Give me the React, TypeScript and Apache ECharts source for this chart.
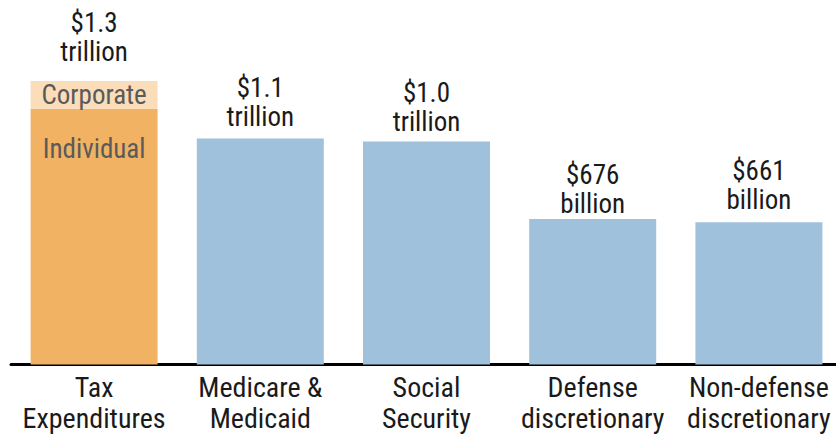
import React, { useEffect, useRef } from "react";
import * as echarts from "echarts";

const categories = ["Tax\nExpenditures", "Medicare &\nMedicaid", "Social\nSecurity", "Defense\ndiscretionary", "Non-defense\ndiscretionary"];
// billions of dollars
const mainValues = [1188, 1050, 1036, 676, 661];
const corporateValues = [128, null, null, null, null];
const totalLabels = ["$1.3\ntrillion", "$1.1\ntrillion", "$1.0\ntrillion", "$676\nbillion", "$661\nbillion"];
const labelGaps = [14.3, 6.6, 4.6, 0, 8];

const FONT = "'Liberation Sans Narrow', 'Roboto Condensed', Roboto, sans-serif";
const ORANGE = "#F1B264";
const LIGHT_ORANGE = "#FBDDB9";
const BLUE = "#A0C1DC";

export default function App() {
  const ref = useRef<HTMLDivElement>(null);
  useEffect(() => {
    document.body.style.margin = "0";
    const chart = echarts.init(ref.current!, null, { renderer: "svg" });
    const valueLabel = (i: number) => ({
      show: true,
      position: "top",
      distance: labelGaps[i],
      formatter: totalLabels[i],
      fontFamily: FONT,
      fontSize: 27,
      lineHeight: 29,
      color: "#1a1a1a",
    });
    chart.setOption({
      animation: false,
      grid: { left: 11, top: 63, width: 831, bottom: 69.5, containLabel: false },
      xAxis: {
        type: "category",
        data: categories,
        axisLine: { show: true, lineStyle: { color: "#000", width: 3 } },
        axisTick: { show: false },
        axisLabel: {
          interval: 0,
          margin: 8,
          fontFamily: FONT,
          fontSize: 28,
          lineHeight: 30.6,
          color: "#1a1a1a",
        },
      },
      yAxis: { type: "value", min: 0, max: 1400, show: false, splitLine: { show: false } },
      series: [
        {
          type: "bar",
          stack: "total",
          barWidth: 127,
          data: mainValues.map((v, i) =>
            i === 0
              ? {
                  value: v,
                  itemStyle: { color: ORANGE },
                  label: {
                    show: true,
                    position: "insideTop",
                    distance: 27,
                    formatter: "Individual",
                    fontFamily: FONT,
                    fontSize: 27,
                    color: "#5a5a5a",
                  },
                }
              : { value: v, itemStyle: { color: BLUE }, label: valueLabel(i) }
          ),
        },
        {
          type: "bar",
          stack: "total",
          barWidth: 127,
          data: corporateValues.map((v) =>
            v == null
              ? null
              : {
                  value: v,
                  itemStyle: { color: LIGHT_ORANGE },
                  label: {
                    show: true,
                    position: "inside",
                    formatter: "Corporate",
                    fontFamily: FONT,
                    fontSize: 27,
                    color: "#5a5a5a",
                  },
                }
          ),
        },
        {
          type: "bar",
          stack: "total",
          barWidth: 127,
          silent: true,
          itemStyle: { color: "transparent" },
          data: corporateValues.map((v, i) => (i === 0 ? { value: 0, label: valueLabel(0) } : null)),
        },
      ],
    });
    return () => chart.dispose();
  }, []);
  return (
    <div style={{ width: 836, height: 434, overflow: "hidden", position: "relative" }}>
      <div ref={ref} style={{ width: 846, height: 434 }} />
    </div>
  );
}
